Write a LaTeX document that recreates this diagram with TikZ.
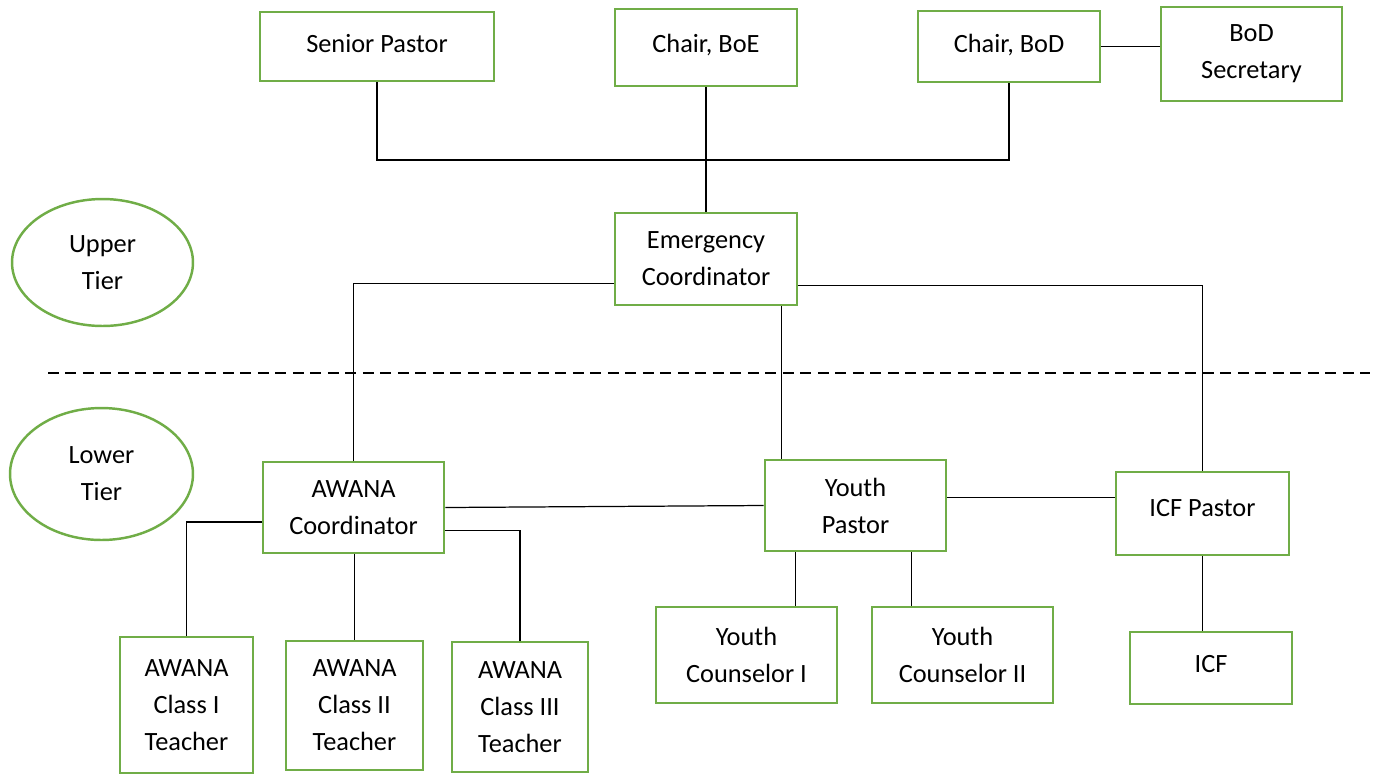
\documentclass[tikz,border=0pt]{standalone}
\usepackage{fontspec}
\setmainfont{Carlito}
\usetikzlibrary{shapes.geometric}
\definecolor{boxgreen}{HTML}{70AD47}
\begin{document}
\begin{tikzpicture}[x=0.02cm,y=-0.02cm,line width=0.7pt]
  \tikzstyle{box}=[draw=boxgreen,line width=1.6pt,align=center,inner sep=2pt,font=\fontsize{15}{21}\selectfont]
  \tikzstyle{tier}=[ellipse,draw=boxgreen,line width=1.4pt,align=center,inner sep=0pt,font=\fontsize{15}{21}\selectfont]
  \useasboundingbox (0,0) rectangle (1375,775);

  % upper tier
  \node[box,minimum width=4.68cm,minimum height=1.38cm] (sp) at (377,46.5) {\raisebox{3.7pt}{Senior Pastor}};
  \node[box,minimum width=3.64cm,minimum height=1.54cm] (boe) at (706,47.5) {\raisebox{4.3pt}{Chair, BoE}};
  \node[box,minimum width=3.64cm,minimum height=1.42cm] (bod) at (1009,46.5) {\raisebox{3.7pt}{Chair, BoD}};
  \node[box,minimum width=3.62cm,minimum height=1.88cm] (sec) at (1251.5,54) {BoD\\Secretary};
  \node[box,minimum width=3.64cm,minimum height=1.84cm] (ec) at (706,259) {Emergency\\Coordinator};

  % lower tier
  \node[box,minimum width=3.62cm,minimum height=1.82cm] (awc) at (353.5,507.5) {AWANA\\Coordinator};
  \node[box,minimum width=3.62cm,minimum height=1.82cm] (yp) at (855.5,505.5) {Youth\\Pastor};
  \node[box,minimum width=3.46cm,minimum height=1.66cm] (icfp) at (1202.5,513.5) {\raisebox{6pt}{ICF Pastor}};
  \node[box,minimum width=2.66cm,minimum height=2.72cm] (t1) at (186.5,705) {AWANA\\Class I\\Teacher};
  \node[box,minimum width=2.74cm,minimum height=2.58cm] (t2) at (354.5,705.5) {AWANA\\Class II\\Teacher};
  \node[box,minimum width=2.72cm,minimum height=2.6cm] (t3) at (520,707) {AWANA\\Class III\\Teacher};
  \node[box,minimum width=3.62cm,minimum height=1.92cm] (yc1) at (746.5,655) {Youth\\Counselor I};
  \node[box,minimum width=3.62cm,minimum height=1.92cm] (yc2) at (962.5,655) {Youth\\Counselor II};
  \node[box,minimum width=3.24cm,minimum height=1.44cm] (icf) at (1211,668) {\raisebox{4.5pt}{ICF}};

  \node[tier,minimum width=3.62cm,minimum height=2.54cm] (up) at (102.5,262.5) {Upper\\Tier};
  \node[tier,minimum width=3.66cm,minimum height=2.64cm] (lo) at (101.5,474) {Lower\\Tier};

  \coordinate (bus) at (706,160);
  \coordinate (dl1) at (48,373);
  \coordinate (dl2) at (1370,373);
  \draw[line width=1.6pt,dash pattern=on 0.22cm off 0.13cm] (dl1) -- (dl2);

  \draw (sp.south) |- (bus) -| (bod.south);
  \draw (boe.south) -- (ec.north);
  \draw (bod.east) -- (bod.east -| sec.west);

  \draw (ec.195) -| (awc.north);
  \draw (ec.328) -- (ec.328 |- yp.north);
  \draw (ec.344) -| (icfp.north);

  \draw (awc.east) -- (yp.west);
  \draw (yp.5) -- (yp.5 -| icfp.west);
  \draw (awc.189) -| (t1.north);
  \draw (t2.north |- awc.south) -- (t2.north);
  \draw (awc.346) -| (t3.north);
  \draw (yp.218) -- (yp.218 |- yc1.north);
  \draw (yp.320) -- (yp.320 |- yc2.north);
  \draw (icfp.south) -- (icfp.south |- icf.north);
\end{tikzpicture}
\end{document}
